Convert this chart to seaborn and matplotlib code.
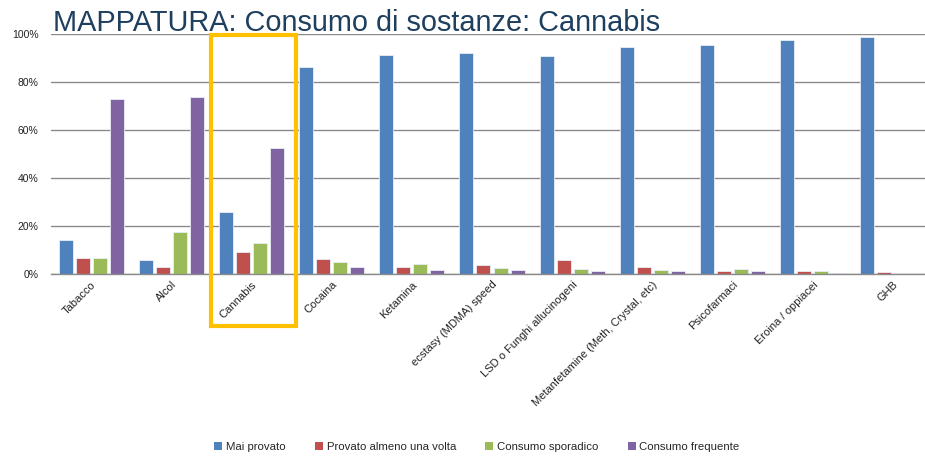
import matplotlib
matplotlib.use("Agg")
import matplotlib.pyplot as plt
import seaborn as sns
import pandas as pd
from matplotlib.patches import Rectangle
from matplotlib.ticker import FuncFormatter

categories = ["Tabacco", "Alcol", "Cannabis", "Cocaina", "Ketamina",
              "ecstasy (MDMA) speed", "LSD o Funghi allucinogeni",
              "Metanfetamine (Meth, Crystal, etc)", "Psicofarmaci",
              "Eroina / oppiacei", "GHB"]
series = ["Mai provato", "Provato almeno una volta", "Consumo sporadico", "Consumo frequente"]
mai_provato = [14.2, 6.0, 25.9, 86.5, 91.2, 92.3, 91.1, 94.8, 95.7, 97.5, 99.0]
provato_una_volta = [6.8, 2.9, 9.0, 6.3, 3.1, 3.6, 6.0, 2.8, 1.1, 1.1, 0.7]
sporadico = [6.5, 17.6, 12.9, 5.0, 4.2, 2.6, 2.2, 1.5, 2.2, 1.1, 0.3]
frequente = [72.9, 73.8, 52.6, 2.8, 1.7, 1.8, 1.1, 1.3, 1.3, 0.4, 0.1]
colors = ["#4F81BD", "#C0504D", "#9BBB59", "#8064A2"]
title = "MAPPATURA: Consumo di sostanze: Cannabis"

rows = []
for s, vals in zip(series, [mai_provato, provato_una_volta, sporadico, frequente]):
    for c, v in zip(categories, vals):
        rows.append({"cat": c, "serie": s, "val": v})
df = pd.DataFrame(rows)

sns.set_theme(style="white")
plt.rcParams["font.family"] = ["Liberation Sans", "DejaVu Sans"]

fig = plt.figure(figsize=(9.25, 4.57), dpi=100)
ax = fig.add_axes([51/925, 1-274/457, 882/925, (274-34.3)/457])

sns.barplot(data=df, x="cat", y="val", hue="serie", order=categories,
            hue_order=series, palette=colors, saturation=1, width=0.85, gap=0.18,
            edgecolor="#e8eef6", linewidth=0.6, ax=ax, legend=False)

ax.set_ylim(0, 100)
ax.set_yticks([0, 20, 40, 60, 80, 100])
ax.yaxis.set_major_formatter(FuncFormatter(lambda v, p: f"{int(v)}%"))
ax.grid(axis="y", color="#8a8a8a", linewidth=1.0)
ax.set_axisbelow(True)
for side in ["left", "right", "top"]:
    ax.spines[side].set_visible(False)
ax.spines["bottom"].set_color("#8a8a8a")
ax.spines["bottom"].set_linewidth(1.0)
ax.set_xlabel("")
ax.set_ylabel("")
ax.tick_params(axis="y", labelsize=7.5, length=0, pad=9, labelcolor="#222222")
ax.tick_params(axis="x", length=0, pad=4)
ax.set_xticks(range(len(categories)))
ax.set_xticklabels(categories, rotation=45, ha="right", rotation_mode="anchor",
                   fontsize=8, color="#222222")

fig.text(53/925, 1-31/457, title, fontsize=20.8, color="#1F3F5F",
         ha="left", va="baseline")

rect = Rectangle((211/925, 1-326/457), 85/925, 291/457, transform=fig.transFigure,
                 fill=False, edgecolor="#FFC000", linewidth=3.0, zorder=10)
fig.add_artist(rect)

handles = [Rectangle((0, 0), 1, 1, facecolor=c, edgecolor="none") for c in colors]
fig.legend(handles, series, loc="center", bbox_to_anchor=(477/925, 1-447/457),
           ncol=4, frameon=False, handlelength=0.7, handleheight=0.7,
           handletextpad=0.3, columnspacing=2.6, prop={"size": 8.2})

fig.savefig("out.png", dpi=100)
